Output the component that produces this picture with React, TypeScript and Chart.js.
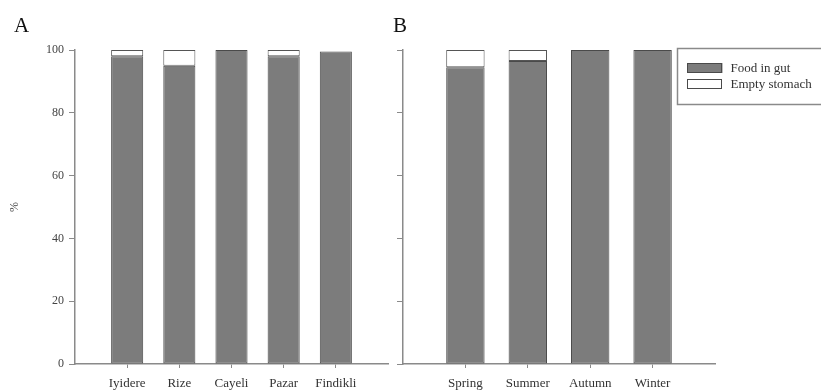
import React, { useEffect, useRef } from "react";
import { Chart, registerables } from "chart.js";

Chart.register(...registerables);

const siteLabels = ["Iyidere", "Rize", "Cayeli", "Pazar", "Findikli"];
const siteFood = [98, 95, 100, 98, 99.5];
const siteEmpty = [2, 5, 0, 2, 0];

const seasonLabels = ["Spring", "Summer", "Autumn", "Winter"];
const seasonFood = [94.5, 96.5, 100, 100];
const seasonEmpty = [5.5, 3.5, 0, 0];

const yTickValues = [0, 20, 40, 60, 80, 100];
const seriesNames = ["Food in gut", "Empty stomach"];

const FONT = "'Liberation Serif', 'Times New Roman', serif";
const FOOD_COLOR = "#7c7c7c";
const BAR_BORDER = "#4a4a4a";
const AXIS_COLOR = "#8a8a8a";

function pad<T>(arr: T[]): (T | null)[] {
  return [null, ...arr, null];
}

function buildConfig(
  labels: string[],
  food: number[],
  empty: number[],
  opts: { yWidth: number; padRight: number; showY: boolean; legend: boolean }
): any {
  const allLabels = ["", ...labels, ""];
  const last = allLabels.length - 1;
  const legendPlugin = {
    id: "boxLegend",
    afterDraw(chart: any) {
      if (!opts.legend) return;
      const ctx = chart.ctx;
      const x0 = 287.5;
      const y0 = 48.5;
      ctx.save();
      ctx.fillStyle = "#ffffff";
      ctx.fillRect(x0, y0, 160, 56);
      ctx.strokeStyle = "#8a8a8a";
      ctx.lineWidth = 1.5;
      ctx.strokeRect(x0, y0, 160, 56);
      const items = [
        { name: seriesNames[0], fill: FOOD_COLOR },
        { name: seriesNames[1], fill: "#ffffff" },
      ];
      items.forEach((it, i) => {
        const sy = 63 + i * 16;
        ctx.fillStyle = it.fill;
        ctx.fillRect(x0 + 10, sy, 35, 10);
        ctx.strokeStyle = BAR_BORDER;
        ctx.lineWidth = 1;
        ctx.strokeRect(x0 + 10, sy + 0.5, 34, 9);
        ctx.fillStyle = "#333";
        ctx.font = `13px ${FONT}`;
        ctx.textBaseline = "middle";
        ctx.textAlign = "left";
        ctx.fillText(it.name, x0 + 53, sy + 5.5);
      });
      ctx.restore();
    },
  };
  return {
    type: "bar",
    data: {
      labels: allLabels,
      datasets: [
        {
          label: seriesNames[0],
          data: pad(food),
          backgroundColor: FOOD_COLOR,
          borderColor: BAR_BORDER,
          borderWidth: 1,
          borderSkipped: false,
          barPercentage: 0.615,
          categoryPercentage: 1,
        },
        {
          label: seriesNames[1],
          data: pad(empty),
          backgroundColor: "#ffffff",
          borderColor: "#555555",
          borderWidth: 1,
          borderSkipped: false,
          barPercentage: 0.615,
          categoryPercentage: 1,
        },
      ],
    },
    options: {
      responsive: false,
      animation: false,
      layout: { padding: { top: 50, right: opts.padRight, left: 0, bottom: 0 } },
      plugins: { legend: { display: false }, tooltip: { enabled: false } },
      scales: {
        x: {
          stacked: true,
          offset: false,
          grid: {
            offset: false,
            drawOnChartArea: false,
            drawTicks: true,
            tickLength: 4,
            color: (c: any) => (c.index === 0 || c.index === last ? "rgba(0,0,0,0)" : AXIS_COLOR),
          },
          border: { display: true, color: AXIS_COLOR, width: 1.5 },
          ticks: {
            autoSkip: false,
            maxRotation: 0,
            padding: 8,
            color: "#333",
            font: { family: FONT, size: 13 },
          },
          afterFit: (s: any) => {
            s.height = 27;
            s.paddingLeft = 0;
            s.paddingRight = 0;
          },
        },
        y: {
          stacked: true,
          min: 0,
          max: 100,
          afterBuildTicks: (s: any) => {
            s.ticks = yTickValues.map((v) => ({ value: v }));
          },
          grid: { drawOnChartArea: false, drawTicks: true, tickLength: 6, color: AXIS_COLOR },
          border: { display: true, color: AXIS_COLOR, width: 1.5 },
          ticks: {
            padding: 5,
            color: opts.showY ? "#444" : "rgba(0,0,0,0)",
            font: { family: FONT, size: 12 },
          },
          title: {
            display: opts.showY,
            text: "%",
            color: "#444",
            font: { family: FONT, size: 12 },
            padding: { top: 8, bottom: 0 },
          },
          afterFit: (s: any) => {
            s.width = opts.yWidth;
          },
        },
      },
    },
    plugins: [legendPlugin],
  };
}

function Panel(props: {
  left: number;
  width: number;
  labels: string[];
  food: number[];
  empty: number[];
  yWidth: number;
  padRight: number;
  showY: boolean;
  legend: boolean;
}) {
  const ref = useRef<HTMLCanvasElement | null>(null);
  useEffect(() => {
    if (!ref.current) return;
    const chart = new Chart(
      ref.current,
      buildConfig(props.labels, props.food, props.empty, {
        yWidth: props.yWidth,
        padRight: props.padRight,
        showY: props.showY,
        legend: props.legend,
      })
    );
    return () => chart.destroy();
  }, []);
  return (
    <canvas
      ref={ref}
      width={props.width}
      height={391}
      style={{ position: "absolute", left: props.left, top: 0, width: props.width, height: 391, display: "block" }}
    />
  );
}

export default function App() {
  const letterStyle: React.CSSProperties = {
    position: "absolute",
    top: 15,
    fontFamily: FONT,
    fontSize: 21,
    lineHeight: "20px",
    color: "#111",
  };
  return (
    <div
      style={{
        position: "fixed",
        left: 0,
        top: 0,
        width: 821,
        height: 391,
        background: "#ffffff",
        overflow: "hidden",
      }}
    >
      <Panel
        left={0}
        width={395}
        labels={siteLabels}
        food={siteFood}
        empty={siteEmpty}
        yWidth={75}
        padRight={7}
        showY={true}
        legend={false}
      />
      <Panel
        left={390}
        width={431}
        labels={seasonLabels}
        food={seasonFood}
        empty={seasonEmpty}
        yWidth={13}
        padRight={106}
        showY={false}
        legend={true}
      />
      <div style={{ ...letterStyle, left: 14 }}>A</div>
      <div style={{ ...letterStyle, left: 393 }}>B</div>
    </div>
  );
}
